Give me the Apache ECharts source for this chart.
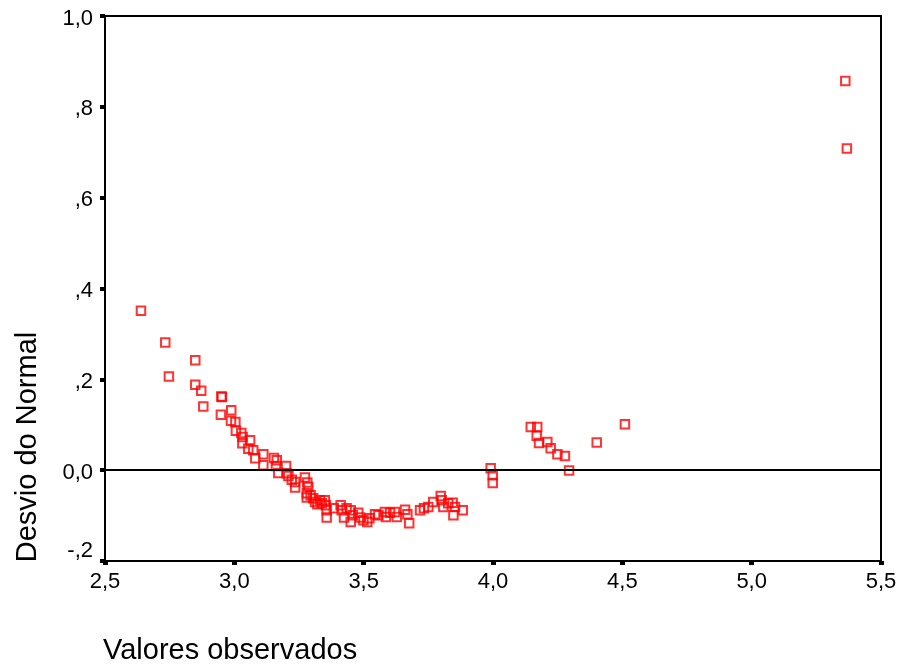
<!DOCTYPE html>
<html>
<head>
<meta charset="utf-8">
<script src="https://cdn.jsdelivr.net/npm/echarts@6/dist/echarts.min.js"></script>
<style>
  html, body { margin: 0; padding: 0; background: #fff; }
  #chart { width: 901px; height: 671px; }
</style>
</head>
<body>
<div id="chart"></div>
<script>
// Observed values (x) and their deviation from the normal (y)
const observedValues = [
  2.639, 2.733, 2.747, 2.849, 2.849, 2.872, 2.880, 2.948, 2.950, 2.952,
  2.987, 2.988, 3.004, 3.006, 3.027, 3.031, 3.032, 3.054, 3.061, 3.073,
  3.081, 3.112, 3.112, 3.153, 3.161, 3.164, 3.170, 3.200, 3.202, 3.209,
  3.222, 3.235, 3.235, 3.273, 3.282, 3.286, 3.280, 3.280, 3.295, 3.305,
  3.312, 3.321, 3.331, 3.338, 3.350, 3.354, 3.357, 3.357, 3.385, 3.411,
  3.415, 3.424, 3.434, 3.450, 3.450, 3.458, 3.479, 3.486, 3.499, 3.514,
  3.522, 3.544, 3.557, 3.582, 3.586, 3.602, 3.621, 3.628, 3.660, 3.669,
  3.676, 3.718, 3.733, 3.750, 3.769, 3.798, 3.802, 3.808, 3.827, 3.844,
  3.847, 3.853, 3.883, 3.991, 3.999, 3.999, 4.146, 4.169, 4.171, 4.178,
  4.210, 4.223, 4.249, 4.278, 4.294, 4.401, 4.510, 5.362, 5.368
];
const deviations = [
  0.351, 0.281, 0.206, 0.242, 0.188, 0.175, 0.140, 0.122, 0.162, 0.161,
  0.109, 0.132, 0.106, 0.087, 0.082, 0.059, 0.073, 0.047, 0.066, 0.044,
  0.026, 0.035, 0.011, 0.027, 0.009, 0.022, -0.006, 0.009, -0.007, -0.013,
  -0.021, -0.026, -0.038, -0.016, -0.027, -0.037, -0.051, -0.060, -0.055, -0.062,
  -0.070, -0.075, -0.066, -0.073, -0.066, -0.077, -0.088, -0.104, -0.084, -0.077,
  -0.088, -0.104, -0.084, -0.088, -0.114, -0.099, -0.094, -0.104, -0.110, -0.114,
  -0.106, -0.097, -0.099, -0.092, -0.103, -0.094, -0.092, -0.103, -0.087, -0.097,
  -0.117, -0.088, -0.084, -0.081, -0.070, -0.057, -0.066, -0.081, -0.073, -0.072,
  -0.099, -0.081, -0.088, 0.004, -0.011, -0.028, 0.095, 0.076, 0.095, 0.060,
  0.062, 0.048, 0.035, 0.031, -0.001, 0.061, 0.101, 0.857, 0.708
];
const xTicks = [2.5, 3.0, 3.5, 4.0, 4.5, 5.0, 5.5];
const yTicks = [-0.2, 0.0, 0.2, 0.4, 0.6, 0.8, 1.0];
const xTitle = 'Valores observados';
const yTitle = 'Desvio do Normal';

const FONT = '"Liberation Sans", Arial, sans-serif';
const TICK_FONT = 22;

// Decimal comma, leading zero dropped below 1 (",8", "-,2"), zero shown as "0,0"
function fmtTick(v) {
  if (Math.abs(v) < 1e-9) return '0,0';
  let s = v.toFixed(1).replace('.', ',');
  if (Math.abs(v) < 1) s = s.replace('0,', ',');
  return s;
}

const points = observedValues.map((x, i) => [x, deviations[i]]);

const chart = echarts.init(document.getElementById('chart'), null, { renderer: 'canvas' });

chart.setOption({
  backgroundColor: '#fff',
  animation: false,
  grid: {
    left: 105, right: 20, top: 16, bottom: 110,
    show: true, borderColor: '#000', borderWidth: 2,
    containLabel: false
  },
  xAxis: {
    type: 'value',
    min: xTicks[0], max: xTicks[xTicks.length - 1], interval: 0.5,
    axisLine: { show: true, onZero: false, lineStyle: { color: '#000', width: 2 } },
    axisTick: { show: true, inside: false, length: 4, lineStyle: { color: '#000', width: 5 } },
    splitLine: { show: false },
    axisLabel: {
      margin: 10, color: '#000', fontSize: TICK_FONT, fontFamily: FONT,
      showMinLabel: true, showMaxLabel: true,
      formatter: fmtTick
    }
  },
  yAxis: {
    type: 'value',
    min: yTicks[0], max: yTicks[yTicks.length - 1], interval: 0.2,
    axisLine: { show: true, onZero: false, lineStyle: { color: '#000', width: 2 } },
    axisTick: { show: true, inside: false, length: 5, lineStyle: { color: '#000', width: 4 } },
    splitLine: { show: false },
    axisLabel: {
      margin: 12, color: '#000', fontSize: TICK_FONT, fontFamily: FONT,
      showMinLabel: true, showMaxLabel: true,
      formatter: function (v) {
        const t = fmtTick(v);
        return v < -0.1 ? '{lo|' + t + '}' : '{n|' + t + '}';
      },
      rich: {
        n: { fontSize: TICK_FONT, fontFamily: FONT, color: '#000', padding: [5, 0, 0, 0] },
        lo: { fontSize: TICK_FONT, fontFamily: FONT, color: '#000', padding: [0, 0, 20, 0] }
      }
    }
  },
  series: [{
    type: 'scatter',
    data: points,
    symbol: 'rect',
    symbolSize: 8.5,
    itemStyle: { color: 'rgba(0,0,0,0)', borderColor: '#ff0000', borderWidth: 2 },
    markLine: {
      silent: true,
      symbol: ['none', 'none'],
      label: { show: false },
      lineStyle: { color: '#000', width: 2, type: 'solid' },
      data: [{ yAxis: 0 }]
    }
  }],
  graphic: [
    {
      type: 'text',
      style: {
        text: xTitle, x: 103, y: 651,
        align: 'left', verticalAlign: 'middle',
        fontSize: 29, fontFamily: FONT, fill: '#000'
      }
    },
    {
      type: 'text',
      x: 28, y: 447, rotation: Math.PI / 2,
      style: {
        text: yTitle, x: 0, y: 0,
        align: 'center', verticalAlign: 'middle',
        fontSize: 29, fontFamily: FONT, fill: '#000'
      }
    }
  ]
});
</script>
</body>
</html>
